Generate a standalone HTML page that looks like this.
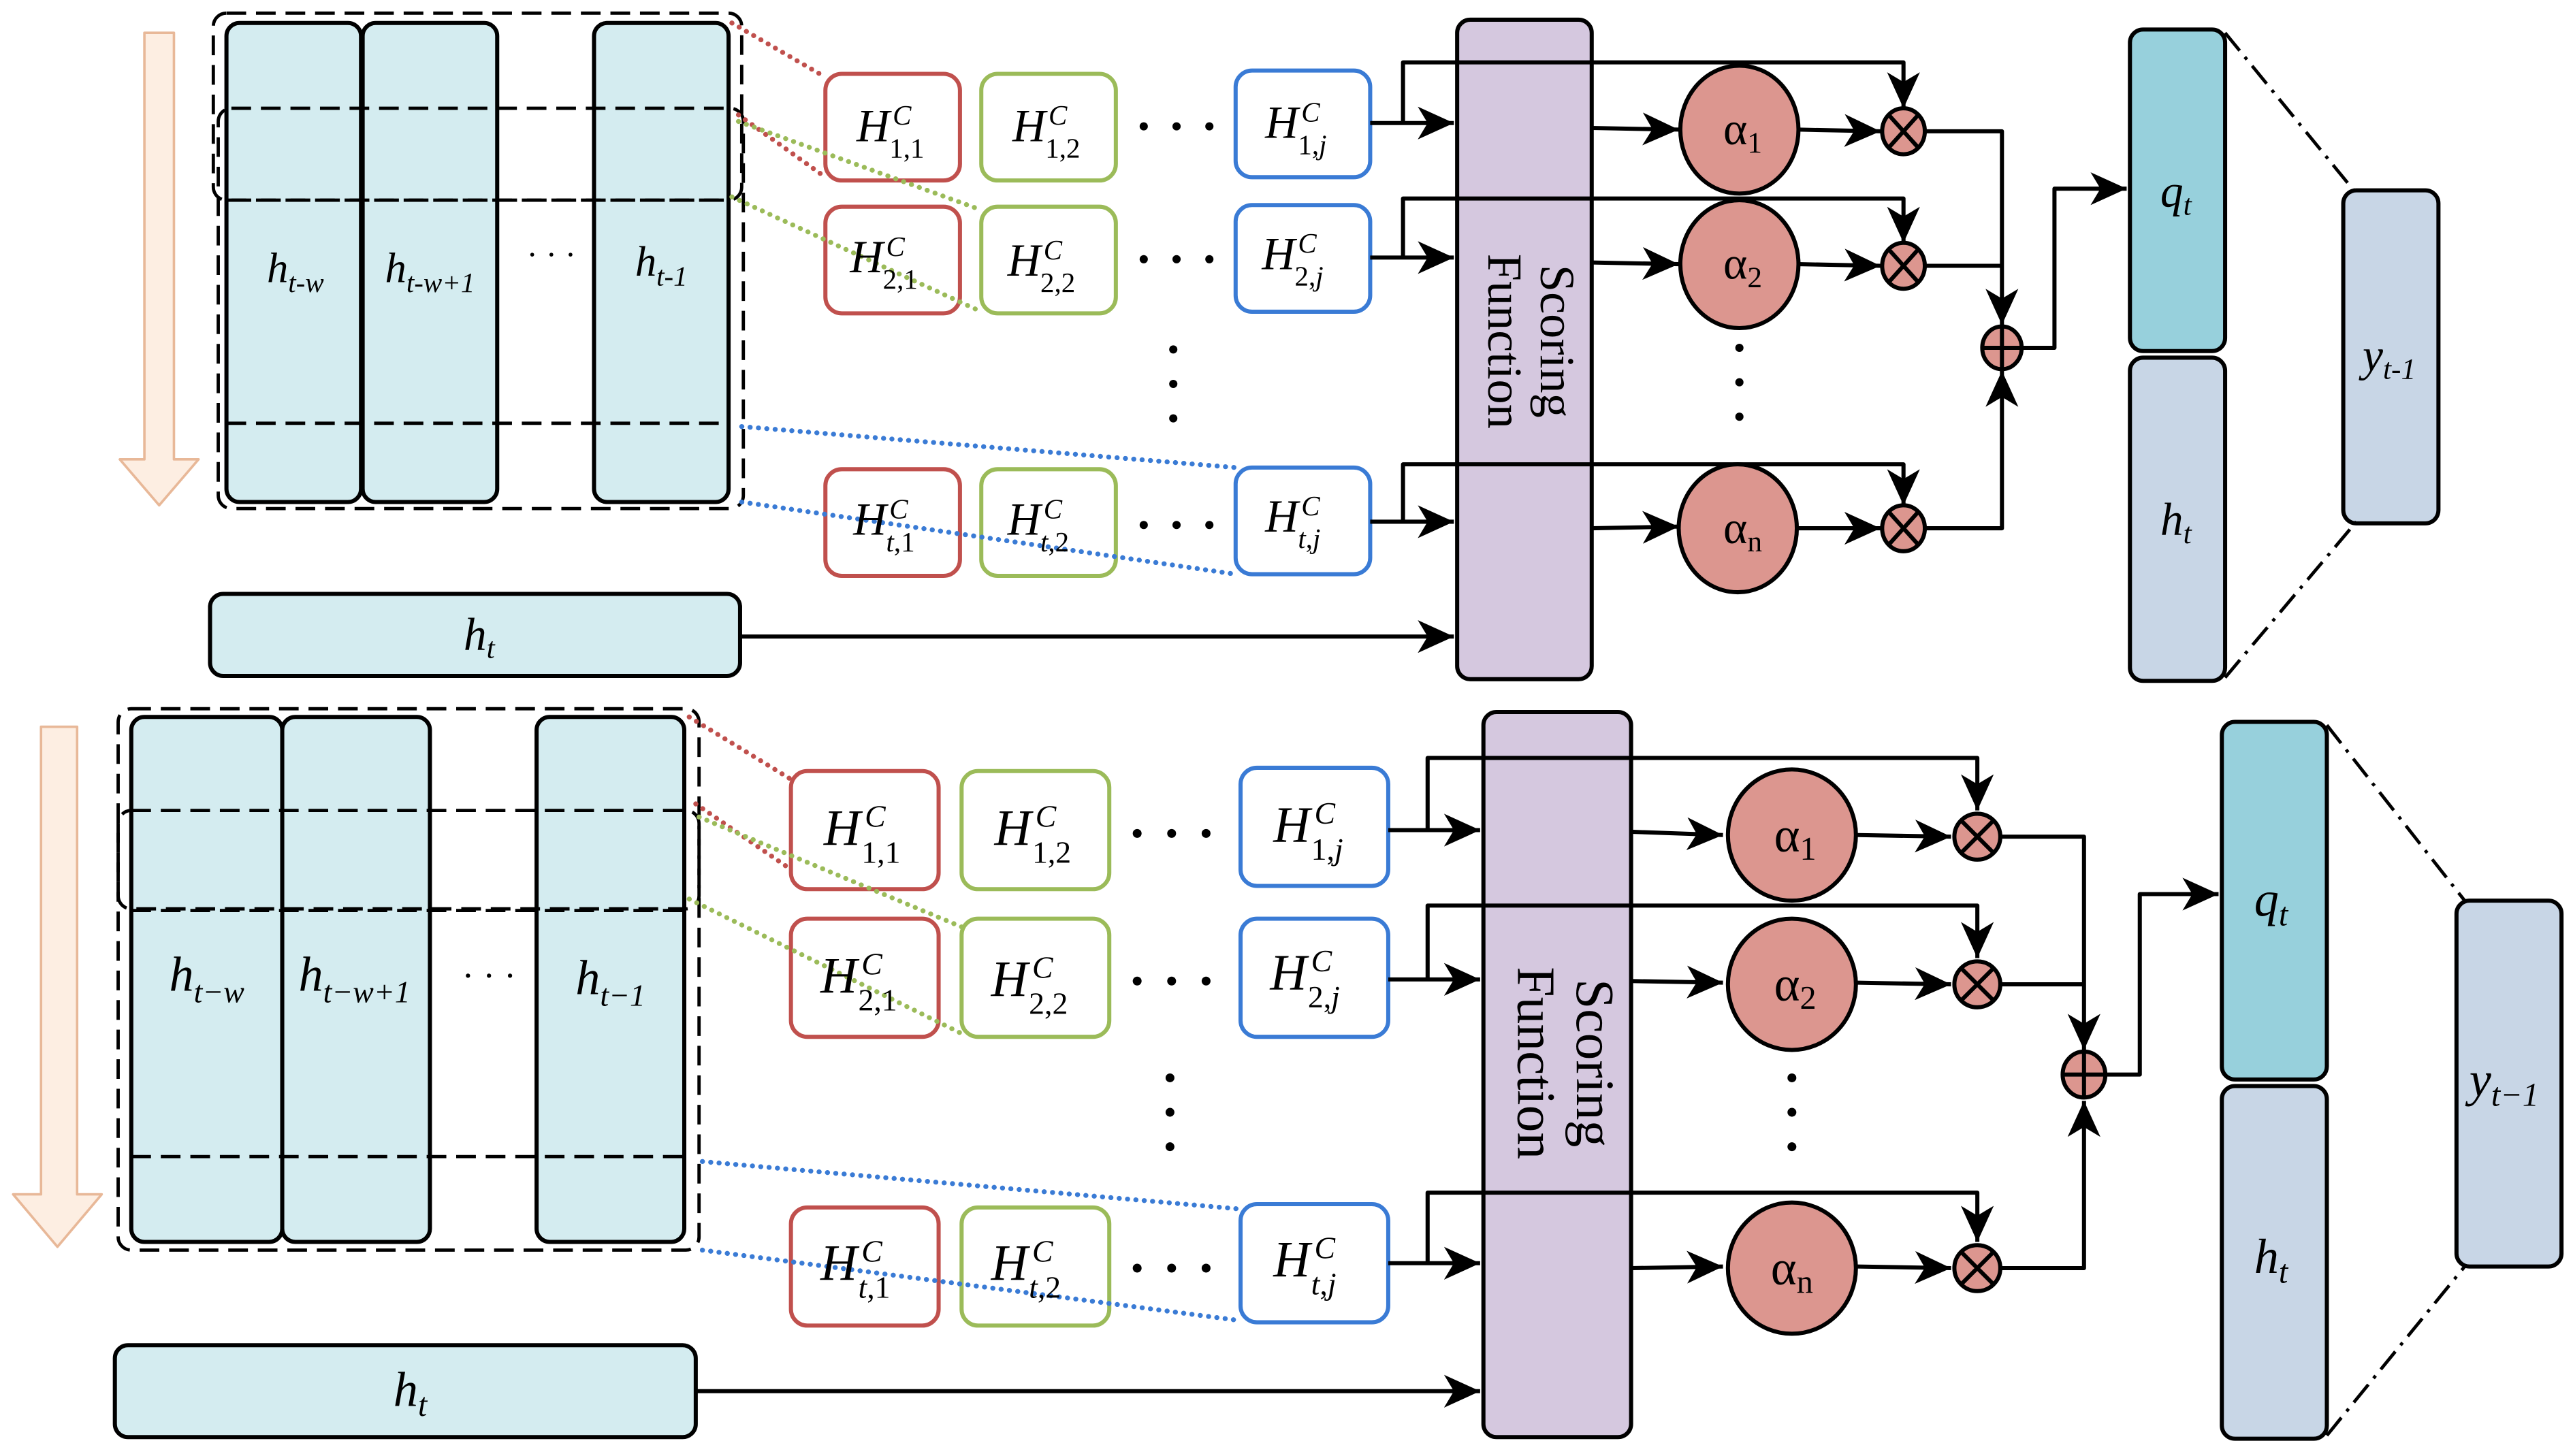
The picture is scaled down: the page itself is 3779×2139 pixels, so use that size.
<!DOCTYPE html>
<html><head><meta charset="utf-8"><style>html,body{margin:0;padding:0;background:#fff}svg{display:block}svg text{font-family:"Liberation Serif","DejaVu Serif",serif}</style></head><body>
<svg width="3779" height="2139" viewBox="0 0 1568 887.5" xmlns="http://www.w3.org/2000/svg" style="font-family:'Liberation Serif','DejaVu Serif',serif">
<defs>
<marker id="a" markerUnits="userSpaceOnUse" markerWidth="24" markerHeight="20" refX="22" refY="10" orient="auto"><path d="M0,0 L22,10 L0,20 L6,10 Z" fill="#000"/></marker>
</defs>
<g stroke-linejoin="round">
<!-- ============ TOP PANEL ============ -->
<path d="M88,20 H106 V280 H121 L97,308 L73,280 H88 Z" fill="#fdeee2" stroke="#e8b898" stroke-width="1.5"/>
<g fill="#d4ecf0" stroke="#000" stroke-width="2.5">
<rect x="138" y="14" width="82" height="292" rx="8"/>
<rect x="221" y="14" width="82" height="292" rx="8"/>
<rect x="362" y="14" width="82" height="292" rx="8"/>
</g>
<g fill="none" stroke="#000" stroke-width="2" stroke-dasharray="12,6">
<rect x="130" y="8" width="322" height="114" rx="8"/>
<rect x="133" y="66" width="320" height="244" rx="8"/>
<line x1="138" y1="122" x2="444" y2="122"/>
<line x1="138" y1="258" x2="444" y2="258"/>
</g>
<g font-style="italic" font-size="26" text-anchor="middle">
<text x="180" y="172">h<tspan font-size="17" dy="6">t-w</tspan></text>
<text x="262" y="172">h<tspan font-size="17" dy="6">t-w+1</tspan></text>
<text x="403" y="168">h<tspan font-size="17" dy="6">t-1</tspan></text>
</g>
<text x="336" y="162" font-size="20" text-anchor="middle">· · ·</text>
<g fill="#fff" stroke-width="2.5">
<rect x="503" y="45" width="82" height="65" rx="10" stroke="#c0504d"/>
<rect x="598" y="45" width="82" height="65" rx="10" stroke="#9bbb59"/>
<rect x="753" y="43" width="82" height="65" rx="10" stroke="#3a7bd5"/>
<rect x="503" y="126" width="82" height="65" rx="10" stroke="#c0504d"/>
<rect x="598" y="126" width="82" height="65" rx="10" stroke="#9bbb59"/>
<rect x="753" y="125" width="82" height="65" rx="10" stroke="#3a7bd5"/>
<rect x="503" y="286" width="82" height="65" rx="10" stroke="#c0504d"/>
<rect x="598" y="286" width="82" height="65" rx="10" stroke="#9bbb59"/>
<rect x="753" y="285" width="82" height="65" rx="10" stroke="#3a7bd5"/>
</g>
<g fill="none" stroke-width="3" stroke-dasharray="0.1,5" stroke-linecap="round">
<path d="M446,14 L503,47 M450,70 L503,108" stroke="#c0504d"/>
<path d="M450,74 L598,128 M446,120 L598,190" stroke="#9bbb59"/>
<path d="M452,260 L753,285 M452,306 L753,350" stroke="#3a7bd5"/>
</g>
<g font-size="28">
<text x="522" y="86" font-style="italic">H</text><text x="544" y="76" font-size="17" font-style="italic">C</text><text x="542" y="96" font-size="17">1,1</text>
<text x="617" y="86" font-style="italic">H</text><text x="639" y="76" font-size="17" font-style="italic">C</text><text x="637" y="96" font-size="17">1,2</text>
<text x="771" y="84" font-style="italic">H</text><text x="793" y="74" font-size="17" font-style="italic">C</text><text x="791" y="94" font-size="17">1,<tspan font-style="italic">j</tspan></text>
<text x="518" y="166" font-style="italic">H</text><text x="540" y="156" font-size="17" font-style="italic">C</text><text x="538" y="176" font-size="17">2,1</text>
<text x="614" y="168" font-style="italic">H</text><text x="636" y="158" font-size="17" font-style="italic">C</text><text x="634" y="178" font-size="17">2,2</text>
<text x="769" y="164" font-style="italic">H</text><text x="791" y="154" font-size="17" font-style="italic">C</text><text x="789" y="174" font-size="17">2,<tspan font-style="italic">j</tspan></text>
<text x="520" y="326" font-style="italic">H</text><text x="542" y="316" font-size="17" font-style="italic">C</text><text x="540" y="336" font-size="17"><tspan font-style="italic">t</tspan>,1</text>
<text x="614" y="326" font-style="italic">H</text><text x="636" y="316" font-size="17" font-style="italic">C</text><text x="634" y="336" font-size="17"><tspan font-style="italic">t</tspan>,2</text>
<text x="771" y="324" font-style="italic">H</text><text x="793" y="314" font-size="17" font-style="italic">C</text><text x="791" y="334" font-size="17"><tspan font-style="italic">t</tspan>,<tspan font-style="italic">j</tspan></text>
</g>
<g fill="#000">
<circle cx="697" cy="77" r="2.5"/><circle cx="717" cy="77" r="2.5"/><circle cx="737" cy="77" r="2.5"/>
<circle cx="697" cy="158" r="2.5"/><circle cx="717" cy="158" r="2.5"/><circle cx="737" cy="158" r="2.5"/>
<circle cx="697" cy="320" r="2.5"/><circle cx="717" cy="320" r="2.5"/><circle cx="737" cy="320" r="2.5"/>
<circle cx="715" cy="213" r="2.5"/><circle cx="715" cy="234" r="2.5"/><circle cx="715" cy="255" r="2.5"/>
<circle cx="1060" cy="212" r="2.5"/><circle cx="1060" cy="233" r="2.5"/><circle cx="1060" cy="254" r="2.5"/>
</g>
<rect x="888" y="12" width="82" height="402" rx="8" fill="#d5c8df" stroke="#000" stroke-width="2.5"/>
<text transform="translate(929,208) rotate(90)" font-size="30" text-anchor="middle"><tspan x="0" y="-10">Scoring</tspan><tspan x="0" y="22">Function</tspan></text>
<g fill="none" stroke="#000" stroke-width="2.5">
<path d="M835,75 H886" marker-end="url(#a)"/>
<path d="M855,75 V38 H1160 V66" marker-end="url(#a)"/>
<path d="M835,157 H886" marker-end="url(#a)"/>
<path d="M855,157 V121 H1160 V148" marker-end="url(#a)"/>
<path d="M835,318 H886" marker-end="url(#a)"/>
<path d="M855,318 V283 H1160 V308" marker-end="url(#a)"/>
<path d="M970,78 L1023,79" marker-end="url(#a)"/>
<path d="M970,160 L1023,161" marker-end="url(#a)"/>
<path d="M970,322 L1023,321" marker-end="url(#a)"/>
<path d="M1096,79 L1146,80" marker-end="url(#a)"/>
<path d="M1096,161 L1146,162" marker-end="url(#a)"/>
<path d="M1096,322 L1146,322" marker-end="url(#a)"/>
<path d="M1174,80 H1220 V198" marker-end="url(#a)"/>
<path d="M1174,162 H1220"/>
<path d="M1174,322 H1220 V226" marker-end="url(#a)"/>
<path d="M1232,212 H1252 V115 H1296" marker-end="url(#a)"/>
<path d="M451,388 H886" marker-end="url(#a)"/>
</g>
<g fill="#dc968f" stroke="#000" stroke-width="2.5">
<ellipse cx="1060" cy="79" rx="36" ry="39"/>
<ellipse cx="1060" cy="161" rx="36" ry="39"/>
<ellipse cx="1059" cy="322" rx="36" ry="39"/>
<ellipse cx="1160" cy="80" rx="13" ry="14"/>
<ellipse cx="1160" cy="162" rx="13" ry="14"/>
<ellipse cx="1160" cy="322" rx="13" ry="14"/>
<ellipse cx="1220" cy="212" rx="12" ry="13"/>
</g>
<g stroke="#000" stroke-width="2.5">
<path d="M1151,70 L1169,90 M1169,70 L1151,90"/>
<path d="M1151,152 L1169,172 M1169,152 L1151,172"/>
<path d="M1151,312 L1169,332 M1169,312 L1151,332"/>
<path d="M1208,212 H1232 M1220,199 V225"/>
</g>
<g font-size="28" text-anchor="middle">
<text x="1062" y="88">α<tspan font-size="18" dy="5">1</tspan></text>
<text x="1062" y="170">α<tspan font-size="18" dy="5">2</tspan></text>
<text x="1062" y="331">α<tspan font-size="18" dy="5">n</tspan></text>
</g>
<rect x="1298" y="18" width="58" height="196" rx="8" fill="#97d0dc" stroke="#000" stroke-width="2.5"/>
<rect x="1298" y="218" width="58" height="197" rx="8" fill="#c8d6e6" stroke="#000" stroke-width="2.5"/>
<rect x="1428" y="116" width="58" height="203" rx="8" fill="#c8d6e6" stroke="#000" stroke-width="2.5"/>
<g stroke="#000" stroke-width="2" stroke-dasharray="14,5,2,5" fill="none">
<path d="M1356,20 L1436,118"/><path d="M1356,413 L1436,318"/>
</g>
<g font-style="italic" font-size="28" text-anchor="middle">
<text x="1326" y="126">q<tspan font-size="18" dy="5">t</tspan></text>
<text x="1326" y="326">h<tspan font-size="18" dy="5">t</tspan></text>
<text x="1456" y="226">y<tspan font-size="18" dy="5">t-1</tspan></text>
</g>
<rect x="128" y="362" width="323" height="50" rx="8" fill="#d4ecf0" stroke="#000" stroke-width="2.5"/>
<text x="292" y="396" font-style="italic" font-size="28" text-anchor="middle">h<tspan font-size="18" dy="5">t</tspan></text>

<!-- ============ BOTTOM PANEL ============ -->
<path d="M25,443 H47 V728 H62 L35,760 L8,728 H25 Z" fill="#fdeee2" stroke="#e8b898" stroke-width="1.5"/>
<g fill="#d4ecf0" stroke="#000" stroke-width="2.5">
<rect x="80" y="437" width="92" height="320" rx="8"/>
<rect x="172" y="437" width="90" height="320" rx="8"/>
<rect x="327" y="437" width="90" height="320" rx="8"/>
</g>
<g fill="none" stroke="#000" stroke-width="2" stroke-dasharray="12,6">
<rect x="72" y="432" width="354" height="122" rx="8"/>
<rect x="72" y="494" width="354" height="268" rx="8"/>
<line x1="80" y1="555" x2="417" y2="555"/>
<line x1="80" y1="705" x2="417" y2="705"/>
</g>
<g font-style="italic" font-size="30" text-anchor="middle">
<text x="126" y="604">h<tspan font-size="19" dy="7">t−w</tspan></text>
<text x="216" y="604">h<tspan font-size="19" dy="7">t−w+1</tspan></text>
<text x="372" y="606">h<tspan font-size="19" dy="7">t−1</tspan></text>
</g>
<text x="298" y="602" font-size="22" text-anchor="middle">· · ·</text>
<g fill="#fff" stroke-width="2.5">
<rect x="482" y="470" width="90" height="72" rx="10" stroke="#c0504d"/>
<rect x="586" y="470" width="90" height="72" rx="10" stroke="#9bbb59"/>
<rect x="756" y="468" width="90" height="72" rx="10" stroke="#3a7bd5"/>
<rect x="482" y="560" width="90" height="72" rx="10" stroke="#c0504d"/>
<rect x="586" y="560" width="90" height="72" rx="10" stroke="#9bbb59"/>
<rect x="756" y="560" width="90" height="72" rx="10" stroke="#3a7bd5"/>
<rect x="482" y="736" width="90" height="72" rx="10" stroke="#c0504d"/>
<rect x="586" y="736" width="90" height="72" rx="10" stroke="#9bbb59"/>
<rect x="756" y="734" width="90" height="72" rx="10" stroke="#3a7bd5"/>
</g>
<g fill="none" stroke-width="3" stroke-dasharray="0.1,5" stroke-linecap="round">
<path d="M420,437 L482,475 M424,490 L482,530" stroke="#c0504d"/>
<path d="M426,498 L586,565 M420,548 L586,630" stroke="#9bbb59"/>
<path d="M428,708 L756,737 M428,762 L756,805" stroke="#3a7bd5"/>
</g>
<g font-size="31">
<text x="502" y="515" font-style="italic">H</text><text x="527" y="504" font-size="19" font-style="italic">C</text><text x="525" y="526" font-size="19">1,1</text>
<text x="606" y="515" font-style="italic">H</text><text x="631" y="504" font-size="19" font-style="italic">C</text><text x="629" y="526" font-size="19">1,2</text>
<text x="776" y="513" font-style="italic">H</text><text x="801" y="502" font-size="19" font-style="italic">C</text><text x="799" y="524" font-size="19">1,<tspan font-style="italic">j</tspan></text>
<text x="500" y="605" font-style="italic">H</text><text x="525" y="594" font-size="19" font-style="italic">C</text><text x="523" y="616" font-size="19">2,1</text>
<text x="604" y="607" font-style="italic">H</text><text x="629" y="596" font-size="19" font-style="italic">C</text><text x="627" y="618" font-size="19">2,2</text>
<text x="774" y="603" font-style="italic">H</text><text x="799" y="592" font-size="19" font-style="italic">C</text><text x="797" y="614" font-size="19">2,<tspan font-style="italic">j</tspan></text>
<text x="500" y="780" font-style="italic">H</text><text x="525" y="769" font-size="19" font-style="italic">C</text><text x="523" y="791" font-size="19"><tspan font-style="italic">t</tspan>,1</text>
<text x="604" y="780" font-style="italic">H</text><text x="629" y="769" font-size="19" font-style="italic">C</text><text x="627" y="791" font-size="19"><tspan font-style="italic">t</tspan>,2</text>
<text x="776" y="778" font-style="italic">H</text><text x="801" y="767" font-size="19" font-style="italic">C</text><text x="799" y="789" font-size="19"><tspan font-style="italic">t</tspan>,<tspan font-style="italic">j</tspan></text>
</g>
<g fill="#000">
<circle cx="693" cy="508" r="2.7"/><circle cx="714" cy="508" r="2.7"/><circle cx="735" cy="508" r="2.7"/>
<circle cx="693" cy="598" r="2.7"/><circle cx="714" cy="598" r="2.7"/><circle cx="735" cy="598" r="2.7"/>
<circle cx="693" cy="773" r="2.7"/><circle cx="714" cy="773" r="2.7"/><circle cx="735" cy="773" r="2.7"/>
<circle cx="713" cy="657" r="2.7"/><circle cx="713" cy="678" r="2.7"/><circle cx="713" cy="699" r="2.7"/>
<circle cx="1092" cy="657" r="2.7"/><circle cx="1092" cy="678" r="2.7"/><circle cx="1092" cy="699" r="2.7"/>
</g>
<rect x="904" y="434" width="90" height="442" rx="8" fill="#d5c8df" stroke="#000" stroke-width="2.5"/>
<text transform="translate(949,648) rotate(90)" font-size="33" text-anchor="middle"><tspan x="0" y="-12">Scoring</tspan><tspan x="0" y="24">Function</tspan></text>
<g fill="none" stroke="#000" stroke-width="2.5">
<path d="M846,506 H902" marker-end="url(#a)"/>
<path d="M870,506 V462 H1205 V494" marker-end="url(#a)"/>
<path d="M846,597 H902" marker-end="url(#a)"/>
<path d="M870,597 V552 H1205 V584" marker-end="url(#a)"/>
<path d="M846,770 H902" marker-end="url(#a)"/>
<path d="M870,770 V727 H1205 V757" marker-end="url(#a)"/>
<path d="M994,507 L1050,509" marker-end="url(#a)"/>
<path d="M994,598 L1050,599" marker-end="url(#a)"/>
<path d="M994,773 L1050,772" marker-end="url(#a)"/>
<path d="M1132,509 L1189,510" marker-end="url(#a)"/>
<path d="M1132,599 L1189,600" marker-end="url(#a)"/>
<path d="M1132,772 L1189,773" marker-end="url(#a)"/>
<path d="M1219,510 H1270 V640" marker-end="url(#a)"/>
<path d="M1219,600 H1270"/>
<path d="M1219,773 H1270 V671" marker-end="url(#a)"/>
<path d="M1283,655 H1304 V545 H1352" marker-end="url(#a)"/>
<path d="M424,848 H902" marker-end="url(#a)"/>
</g>
<g fill="#dc968f" stroke="#000" stroke-width="2.5">
<ellipse cx="1092" cy="509" rx="39" ry="40"/>
<ellipse cx="1092" cy="600" rx="39" ry="40"/>
<ellipse cx="1092" cy="773" rx="39" ry="40"/>
<ellipse cx="1205" cy="510" rx="14" ry="14"/>
<ellipse cx="1205" cy="600" rx="14" ry="14"/>
<ellipse cx="1205" cy="773" rx="14" ry="14"/>
<ellipse cx="1270" cy="655" rx="13" ry="14"/>
</g>
<g stroke="#000" stroke-width="2.5">
<path d="M1195,500 L1215,520 M1215,500 L1195,520"/>
<path d="M1195,590 L1215,610 M1215,590 L1195,610"/>
<path d="M1195,763 L1215,783 M1215,763 L1195,783"/>
<path d="M1257,655 H1283 M1270,641 V669"/>
</g>
<g font-size="30" text-anchor="middle">
<text x="1094" y="519">α<tspan font-size="20" dy="5">1</tspan></text>
<text x="1094" y="610">α<tspan font-size="20" dy="5">2</tspan></text>
<text x="1092" y="783">α<tspan font-size="20" dy="5">n</tspan></text>
</g>
<rect x="1354" y="440" width="64" height="218" rx="8" fill="#97d0dc" stroke="#000" stroke-width="2.5"/>
<rect x="1354" y="662" width="64" height="215" rx="8" fill="#c8d6e6" stroke="#000" stroke-width="2.5"/>
<rect x="1497" y="549" width="64" height="223" rx="8" fill="#c8d6e6" stroke="#000" stroke-width="2.5"/>
<g stroke="#000" stroke-width="2" stroke-dasharray="14,5,2,5" fill="none">
<path d="M1418,442 L1502,549"/><path d="M1418,875 L1502,772"/>
</g>
<g font-style="italic" font-size="30" text-anchor="middle">
<text x="1384" y="558">q<tspan font-size="20" dy="6">t</tspan></text>
<text x="1384" y="776">h<tspan font-size="20" dy="6">t</tspan></text>
<text x="1526" y="668">y<tspan font-size="20" dy="6">t−1</tspan></text>
</g>
<rect x="70" y="820" width="354" height="56" rx="8" fill="#d4ecf0" stroke="#000" stroke-width="2.5"/>
<text x="250" y="857" font-style="italic" font-size="30" text-anchor="middle">h<tspan font-size="20" dy="6">t</tspan></text>
</g>
</svg>
</body></html>
